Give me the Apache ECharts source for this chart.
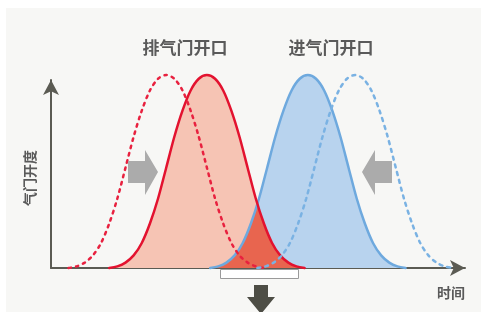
<!DOCTYPE html>
<html>
<head>
<meta charset="utf-8">
<script src="https://cdn.jsdelivr.net/npm/echarts@6/dist/echarts.min.js"></script>
<style>html,body{margin:0;padding:0;background:#fff}#c{width:481px;height:312px}</style>
</head>
<body>
<div id="c"></div>
<script>
// Exhaust / intake valve lift (solid = shifted timing, dashed = original timing)
var exhaustDashed = [[4.3,0],[6.3,0.9],[8.3,3.0],[10.3,7.0],[12.3,13.9],[14.3,24.7],[16.3,38.6],[18.3,55.7],[20.3,72.9],[22.3,87.4],[24.3,98.6],[26.3,105.1],[28.3,107.2],[30.3,105.1],[32.3,98.6],[34.3,87.4],[36.3,72.9],[38.3,55.7],[40.3,38.6],[42.3,24.7],[44.3,13.9],[46.3,7.0],[48.3,3.0],[50.3,0.9],[52.3,0]];
var exhaustSolid = [[14.3,0],[16.3,0.9],[18.3,3.0],[20.3,7.0],[22.3,13.9],[24.3,24.7],[26.3,38.6],[28.3,55.7],[30.3,72.9],[32.3,87.4],[34.3,98.6],[36.3,105.1],[38.3,107.2],[40.3,105.1],[42.3,98.6],[44.3,87.4],[46.3,72.9],[48.3,55.7],[50.3,38.6],[52.3,24.7],[54.3,13.9],[56.3,7.0],[58.3,3.0],[60.3,0.9],[62.3,0]];
var intakeSolid = [[39.1,0],[41.1,0.9],[43.1,3.0],[45.1,7.0],[47.1,13.9],[49.1,24.7],[51.1,38.6],[53.1,55.7],[55.1,72.9],[57.1,87.4],[59.1,98.6],[61.1,105.1],[63.1,107.2],[65.1,105.1],[67.1,98.6],[69.1,87.4],[71.1,72.9],[73.1,55.7],[75.1,38.6],[77.1,24.7],[79.1,13.9],[81.1,7.0],[83.1,3.0],[85.1,0.9],[87.1,0]];
var intakeDashed = [[50.7,0],[52.7,0.9],[54.7,3.0],[56.7,7.0],[58.7,13.9],[60.7,24.7],[62.7,38.6],[64.7,55.7],[66.7,72.9],[68.7,87.4],[70.7,98.6],[72.7,105.1],[74.7,107.2],[76.7,105.1],[78.7,98.6],[80.7,87.4],[82.7,72.9],[84.7,55.7],[86.7,38.6],[88.7,24.7],[90.7,13.9],[92.7,7.0],[94.7,3.0],[96.7,0.9],[98.7,0]];
var overlap = [[39.1,0],[41.1,0.9],[43.1,3.0],[45.1,7.0],[47.1,13.9],[49.1,24.7],[50.7,34.2],[52.3,24.7],[54.3,13.9],[56.3,7.0],[58.3,3.0],[60.3,0.9],[62.3,0]];
var labelExhaust = '排气门开口';
var labelIntake = '进气门开口';
var yName = '气门开度';
var xName = '时间';

var chart = echarts.init(document.getElementById('c'), null, {renderer:'canvas'});
var axisColor = '#5b5b53';
var font = '"Noto Sans CJK SC", sans-serif';
function areaSeries(data, color, z){
  return {type:'line', data:data, smooth:0.3, symbol:'none', clip:false, z:z,
    lineStyle:{width:0}, areaStyle:{color:color, opacity:1}};
}
function lineSeries(data, color, type, z){
  return {type:'line', data:data, smooth:0.3, symbol:'none', clip:false, z:z,
    lineStyle:{width:2.5, color:color, type:type, cap:'round'}};
}
chart.setOption({
  backgroundColor:'#ffffff',
  animation:false,
  grid:{left:51, right:16, top:80, bottom:44},
  xAxis:{type:'value', min:0, max:101.7, axisLabel:{show:false}, axisTick:{show:false}, splitLine:{show:false},
    axisLine:{show:true, lineStyle:{color:axisColor, width:2}, symbol:['none','arrow'], symbolSize:[12,15]}},
  yAxis:{type:'value', min:0, max:104.4, axisLabel:{show:false}, axisTick:{show:false}, splitLine:{show:false},
    axisLine:{show:true, lineStyle:{color:axisColor, width:2}, symbol:['none','arrow'], symbolSize:[12,15]}},
  graphic:[
    {type:'rect', z:-10, shape:{x:6, y:8, width:475, height:304}, style:{fill:'#f7f7f5'}},
    {type:'text', z:100, x:185, y:48, style:{text:labelExhaust, font:'bold 17px '+font, fill:'#5a5a5a', textAlign:'center', textVerticalAlign:'middle'}},
    {type:'text', z:100, x:331, y:48, style:{text:labelIntake, font:'bold 17px '+font, fill:'#5a5a5a', textAlign:'center', textVerticalAlign:'middle'}},
    {type:'text', z:100, x:30, y:178, rotation:Math.PI/2, style:{text:yName, font:'bold 14px '+font, fill:'#5a5a5a', textAlign:'center', textVerticalAlign:'middle'}},
    {type:'text', z:100, x:451, y:293, style:{text:xName, font:'bold 14px '+font, fill:'#5a5a5a', textAlign:'center', textVerticalAlign:'middle'}},
    {type:'polygon', z:100, shape:{points:[[128,161],[145,161],[145,150],[158,172],[145,195],[145,183],[128,183]]}, style:{fill:'#ababab'}},
    {type:'polygon', z:100, shape:{points:[[392,161],[375,161],[375,150],[362,172],[375,195],[375,183],[392,183]]}, style:{fill:'#ababab'}},
    {type:'rect', z:100, shape:{x:220.5, y:269.5, width:78, height:9}, style:{fill:'#ffffff', stroke:'#9a9a9a', lineWidth:1}},
    {type:'polygon', z:100, shape:{points:[[254,285],[268,285],[268,297],[275,297],[261,314],[247,297],[254,297]]}, style:{fill:'#4d4d45'}}
  ],
  series:[
    areaSeries(exhaustSolid, '#f6c4b4', 2),
    areaSeries(intakeSolid, '#b8d3ee', 3),
    areaSeries(overlap, '#e8654f', 4),
    lineSeries(exhaustSolid, '#e3122f', 'solid', 6),
    lineSeries(intakeSolid, '#6ea9de', 'solid', 5),
    lineSeries(exhaustDashed, '#e8213f', [2.5,5], 7),
    lineSeries(intakeDashed, '#7ab2e3', [3,5], 7)
  ]
});
</script>
</body>
</html>
